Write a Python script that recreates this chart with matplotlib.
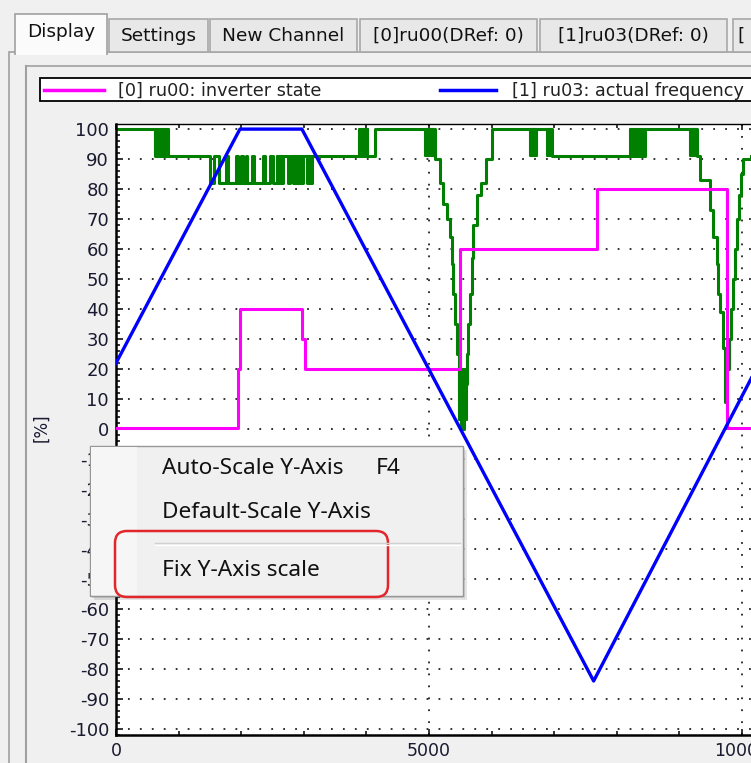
import matplotlib.pyplot as plt
from matplotlib.patches import Rectangle, FancyBboxPatch
from matplotlib.ticker import MultipleLocator

plt.rcParams['lines.scale_dashes'] = False
plt.rcParams['axes.unicode_minus'] = False

# --- data ---
series_names = ['[0] ru00: inverter state', '[1] ru03: actual frequency']
tab_labels = ['Display', 'Settings', 'New Channel', '[0]ru00(DRef: 0)', '[1]ru03(DRef: 0)', '[']
menu_items = ['Auto-Scale Y-Axis', 'Default-Scale Y-Axis', 'Fix Y-Axis scale']
menu_shortcut = 'F4'

# [0] inverter state (step signal)
state_x = [0, 1950, 1980, 2970, 3018, 5494, 7680, 9758, 10150]
state_y = [0.5, 20, 40, 30, 20, 60, 80, 0.5, 0.5]

# [1] actual frequency
freq_x = [0, 1980, 2970, 7630, 10150]
freq_y = [22, 100, 100, -84, 17]

# third channel (green), step signal
green_x = [0, 623, 1501, 1565, 1645, 1757, 1789, 1916, 1948, 1996, 2028, 2076, 2092,
           2172, 2204, 2348, 2380, 2459, 2507, 2667, 2747, 2779, 2827, 2986, 3050, 3130,
           4136, 5095, 5174, 5222, 5286, 5334, 5366, 5382, 5414, 5446, 5478, 5510,
           5558, 5574, 5605, 5621, 5653, 5685, 5701, 5765, 5829, 5909, 6005, 6965,
           8450, 9280, 9326, 9486, 9534, 9598, 9614, 9646, 9694, 9726, 9758, 9790,
           9822, 9854, 9886, 9917, 9949, 9981, 10013, 10150]
green_y = [100, 91, 82, 91, 82, 91, 82, 91, 82, 91, 82, 91, 82,
           91, 82, 91, 82, 91, 82, 91, 82, 91, 82, 91, 82, 91,
           100, 90, 82, 75, 70, 64, 55, 45, 35, 25, 12, 0,
           8, 15, 25, 35, 45, 57, 68, 78, 82, 90, 100, 91,
           100, 91, 83, 73, 64, 55, 45, 39, 27, 9, 20, 30,
           40, 50, 60, 70, 78, 85, 90, 91]
# stretches where the green signal toggles too fast to resolve
burst_start = [623, 2571, 2827, 3050, 3880, 4935, 5478, 6613, 6880, 8210, 9170]
burst_end = [847, 2667, 2986, 3130, 4025, 5095, 5605, 6725, 6965, 8450, 9280]
burst_low = [91, 82, 82, 82, 91, 91, 3, 91, 91, 91, 91]
burst_high = [100, 91, 91, 91, 100, 100, 20, 100, 100, 100, 100]

W, H = 751, 763
fig = plt.figure(figsize=(W / 100, H / 100), dpi=100, facecolor='#f0f0f0')

# window chrome in pixel coordinates
ui = fig.add_axes([0, 0, 1, 1], zorder=0)
ui.set_xlim(0, W)
ui.set_ylim(H, 0)
ui.axis('off')

tab_pos = [(15, 107), (109, 208), (210, 357), (360, 537), (540, 727), (733, 770)]
ui.add_patch(Rectangle((9, 52), 800, 800, fc='#f0f0f0', ec='#a0a0a0', lw=1.2))
for i, (lab, (x0, x1)) in enumerate(zip(tab_labels, tab_pos)):
    if i == 0:
        ui.add_patch(Rectangle((x0, 14), x1 - x0, 40, fc='#fbfbfb', ec='#a0a0a0', lw=1.2, zorder=3))
        ui.add_patch(Rectangle((x0 + 1, 50), x1 - x0 - 2, 5, fc='#fbfbfb', ec='none', zorder=4))
        ui.text((x0 + x1) / 2, 32, lab, ha='center', va='center', fontsize=13.3, color='#111111', zorder=5)
    else:
        ui.add_patch(Rectangle((x0, 19), x1 - x0, 33, fc='#e8e8e8', ec='#a8a8a8', lw=1.2, zorder=2))
        ui.text((x0 + x1) / 2 if i < 5 else x0 + 4, 36, lab, ha='center' if i < 5 else 'left',
                va='center', fontsize=13.3, color='#111111', zorder=5)
ui.plot([26, 26], [66, H], color='#a0a0a0', lw=1.5)
ui.plot([26, W], [66, 66], color='#a0a0a0', lw=1.2)

# legend strip
ui.add_patch(Rectangle((40, 78), 800, 23, fc='white', ec='black', lw=1.3))
ui.plot([44, 104], [90, 90], color='#ff00ff', lw=2.5)
ui.text(118, 90.5, series_names[0], va='center', fontsize=12.7, color='#222222')
ui.plot([440, 496], [90, 90], color='#0000ff', lw=2.5)
ui.text(512, 90.5, series_names[1], va='center', fontsize=12.7, color='#222222')

# --- plot ---
ax = fig.add_axes([116 / W, (H - 735) / H, 684 / W, 611 / H], zorder=1)
ax.set_xlim(0, 684 / 62.6 * 1000)
ax.set_ylim(-102, 101.7)
ax.set_facecolor('white')

for x0, x1, lo, hi in zip(burst_start, burst_end, burst_low, burst_high):
    ax.fill_between([x0, x1], [lo, lo], [hi, hi], color='#008000', lw=1.5, zorder=2)
ax.plot(green_x, green_y, drawstyle='steps-post', color='#008000', lw=2.2, zorder=2)
ax.plot(state_x, state_y, drawstyle='steps-post', color='#ff00ff', lw=2.2, zorder=3)
ax.plot(freq_x, freq_y, color='#0000ff', lw=2.4, zorder=4)

ax.xaxis.set_major_locator(MultipleLocator(5000))
ax.xaxis.set_minor_locator(MultipleLocator(1000))
ax.yaxis.set_major_locator(MultipleLocator(10))
ax.yaxis.set_minor_locator(MultipleLocator(2))
ax.grid(which='major', color='#222222', lw=1.3, linestyle=(0, (1.3, 7.3)))
ax.tick_params(which='both', direction='in', top=True, right=False, color='black',
               labelcolor='#1a1a30', labelsize=13, width=1.1)
ax.tick_params(which='major', length=5, pad=5)
ax.tick_params(which='minor', length=3)
ax.tick_params(axis='x', which='major', length=4, pad=5, labelsize=12.5)
ax.spines['left'].set_linewidth(1.8)
ax.spines['bottom'].set_linewidth(1.8)
ax.spines['top'].set_linewidth(1.0)
ax.spines['right'].set_visible(False)
ax.set_ylabel('[%]', fontsize=12, color='#1a1a30')
ax.yaxis.set_label_coords(-66 / 684, (735 - 428) / 611)

# --- context menu overlay ---
top = fig.add_axes([0, 0, 1, 1], zorder=5)
top.set_xlim(0, W)
top.set_ylim(H, 0)
top.axis('off')
top.patch.set_alpha(0)
top.add_patch(Rectangle((94, 450), 373, 150, fc='#000000', alpha=0.10, ec='none'))
top.add_patch(Rectangle((92, 448), 373, 150, fc='#000000', alpha=0.10, ec='none'))
top.add_patch(Rectangle((90, 446), 373, 150, fc='#f0f0f0', ec='#979797', lw=1.0))
top.add_patch(Rectangle((91, 447), 46, 148, fc='#f6f6f6', ec='none'))
menu_y = [469, 513, 570]
for txt, yy in zip(menu_items, menu_y):
    top.text(162, yy, txt, va='center', fontsize=16.3, family='Noto Sans', color='#111111')
top.text(376, menu_y[0], menu_shortcut, va='center', fontsize=16.3, family='Noto Sans', color='#111111')
top.plot([155, 460], [543, 543], color='#d0d0d0', lw=1.0)
top.plot([155, 460], [544.5, 544.5], color='#ffffff', lw=1.0)
top.add_patch(FancyBboxPatch((115, 531), 273, 66, boxstyle='round,pad=0,rounding_size=12',
                             fc='none', ec='#e3262b', lw=1.8))

fig.savefig('out.png', dpi=100, facecolor=fig.get_facecolor())
